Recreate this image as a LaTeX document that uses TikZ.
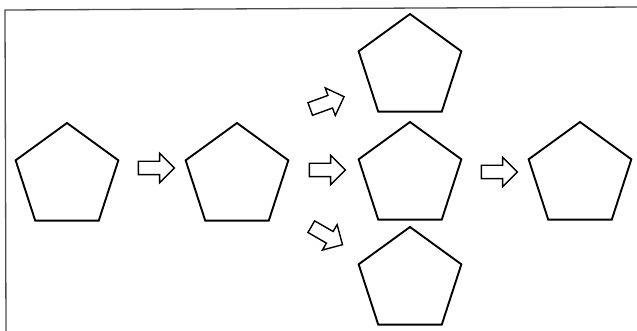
\documentclass[tikz,border=0pt]{standalone}
\usepackage{tikz}
\usetikzlibrary{shapes.geometric,shapes.arrows,positioning}

\begin{document}
\begin{tikzpicture}[x=1pt, y=-1pt,
	every pentagon/.style={draw, line width=1.9pt, line join=miter,
		regular polygon, regular polygon sides=5, minimum size=108pt, inner sep=0pt},
	hollow arrow/.style={draw, line width=1.4pt, single arrow, single arrow head extend=8pt,
		inner sep=6pt, minimum height=36pt}]
	
	\useasboundingbox (0,0) rectangle (637,331);
	
	% frame
	\draw [black!70, line width=1.3pt] (637,7) -- (5,10) -- (6,331);
	
	\node [every pentagon] (start) at (67,177) {};
	\node [every pentagon] (split) at (237,177) {};
	
	\foreach \y [count=\i] in {68,176,281}
	\node [every pentagon] (mid-\i) at (410,\y) {};
	
	\node [every pentagon] (end) at (580,176) {};
	
	\node [hollow arrow] (step-1) at (153,168) {};
	
	\foreach \y/\a [count=\i] in {104/20,170/0,234/-30}
	\node [hollow arrow, rotate=\a] (into-\i) at (324,\y) {};
	
	\node [hollow arrow] (step-2) at (496,172) {};
	
\end{tikzpicture}
\end{document}
